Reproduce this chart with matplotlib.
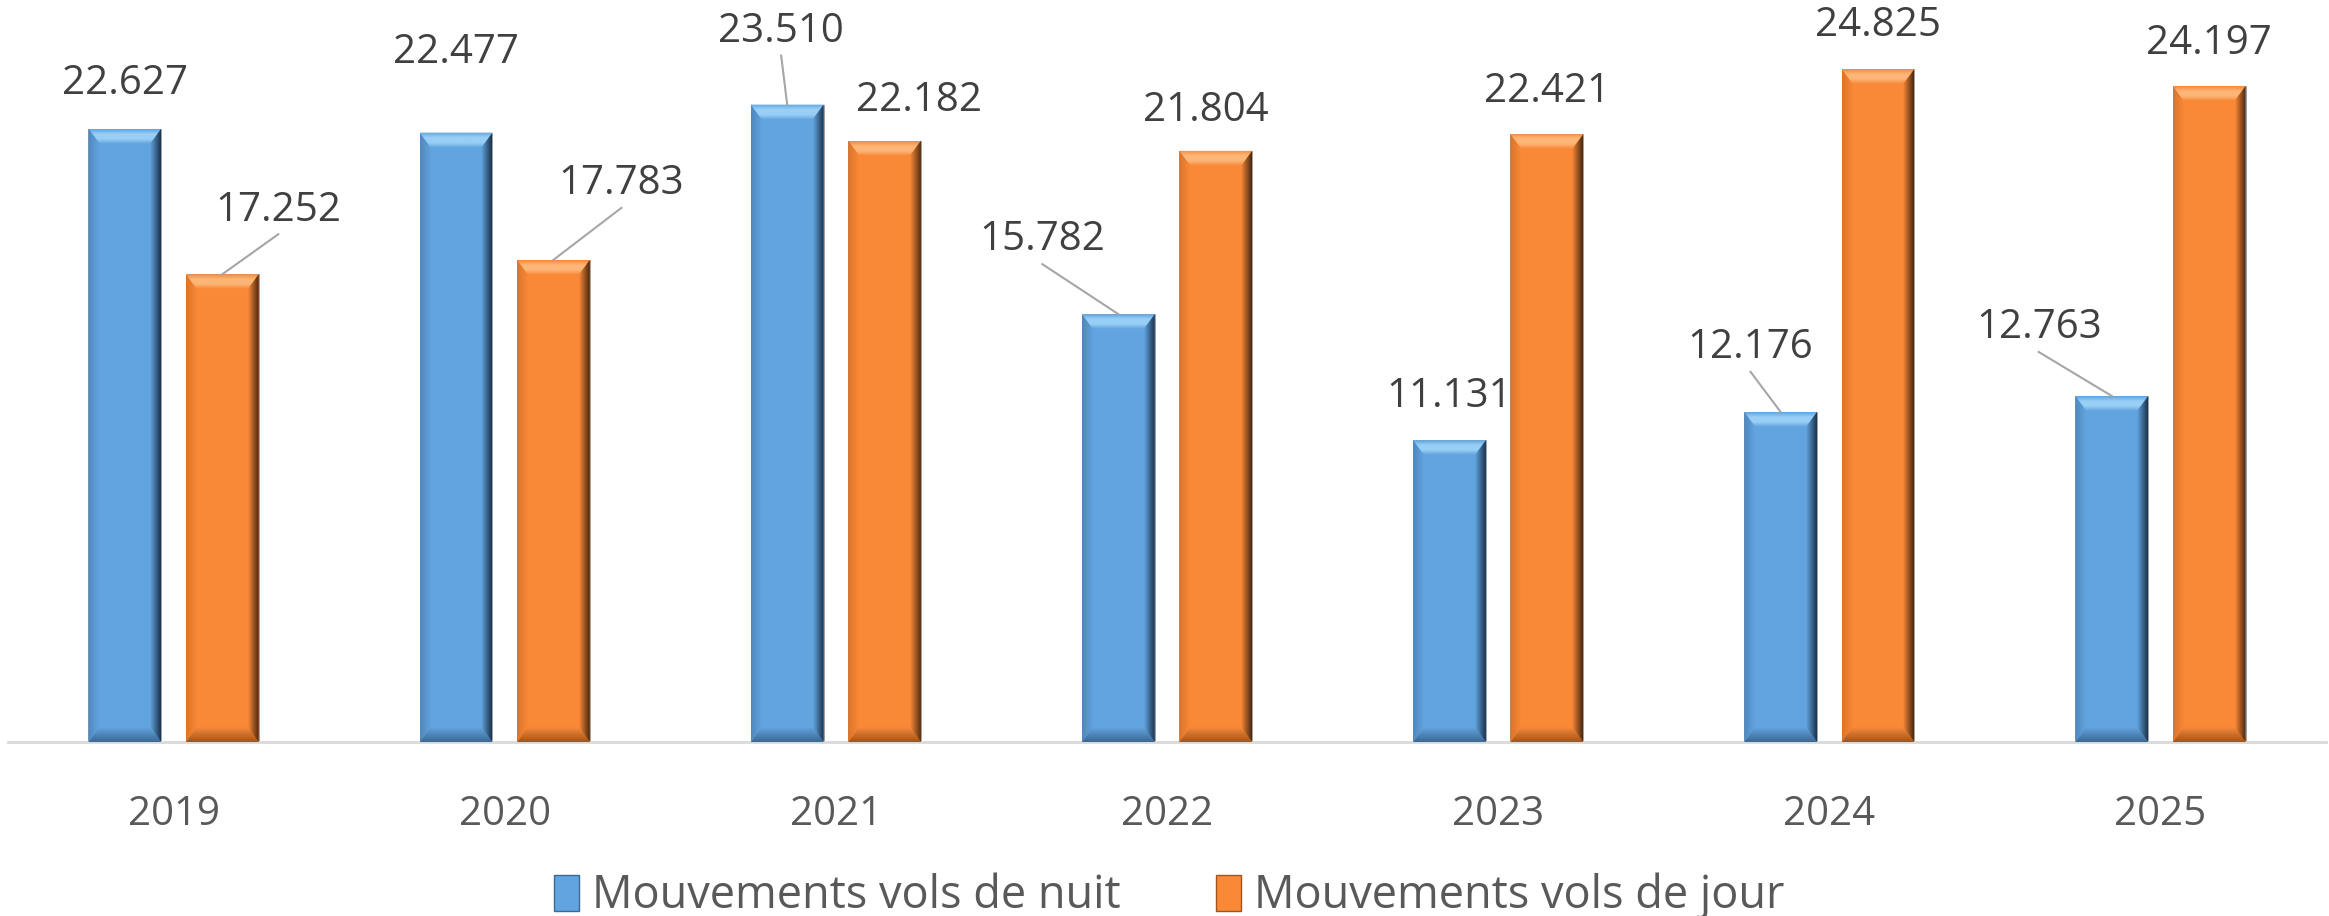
import numpy as np
import matplotlib.pyplot as plt
from matplotlib.colors import to_rgb
from matplotlib.patches import Polygon, Patch

plt.switch_backend('agg')
plt.rcParams['font.family'] = ['Open Sans', 'DejaVu Sans']

# data
years = ['2019', '2020', '2021', '2022', '2023', '2024', '2025']
night = [22627, 22477, 23510, 15782, 11131, 12176, 12763]
day = [17252, 17783, 22182, 21804, 22421, 24825, 24197]
series_names = ['Mouvements vols de nuit', 'Mouvements vols de jour']

# label offsets from bar top centre, in pixels (dx, dy), and whether a leader is drawn
night_offsets = [(0, -45), (0, -80), (-6, -73), (-76, -74), (0, -43), (-30, -64), (-73, -68)]
day_offsets = [(56, -64), (68, -76), (34, -40), (-10, -40), (0, -42), (0, -43), (0, -42)]
night_leader = [False, False, True, True, False, True, True]
day_leader = [True, True, False, False, False, False, False]

blue = {'base': '#62a4df', 'light': '#98cff6', 'side': '#4f87bd', 'dark': '#1b324c', 'bottom': '#3c6894'}
orange = {'base': '#f98837', 'light': '#fdb677', 'side': '#d9742b', 'dark': '#472810', 'bottom': '#9e561e'}

W, H, DPI = 2329, 916, 100
fig = plt.figure(figsize=(W / DPI, H / DPI), dpi=DPI)
ax_l, ax_r, ax_b, ax_t = 8 / W, 2326 / W, (H - 742) / H, (H - 10) / H
ax = fig.add_axes([ax_l, ax_b, ax_r - ax_l, ax_t - ax_b])

ymax = 27000
ax.set_xlim(-0.5, len(years) - 0.5)
ax.set_ylim(0, ymax)

px_x = len(years) / (W * (ax_r - ax_l))
px_y = ymax / (H * (ax_t - ax_b))

bar_w = 0.22
shift = 0.147
x = np.arange(len(years))


def grad_fill(pts, extent, colors, horizontal):
    poly = Polygon(pts, closed=True, facecolor='none', edgecolor='none', zorder=3)
    ax.add_patch(poly)
    cols = np.array([to_rgb(c) for c in colors])
    t = np.linspace(0, 1, 48)
    pos = np.linspace(0, 1, len(cols))
    img = np.stack([np.interp(t, pos, cols[:, k]) for k in range(3)], axis=-1)
    img = img[None, :, :] if horizontal else img[:, None, :]
    im = ax.imshow(img, extent=extent, aspect='auto', zorder=3, interpolation='bilinear', origin='upper')
    im.set_clip_path(poly)


def bevel_bar(xc, h, col):
    x0, x1 = xc - bar_w / 2, xc + bar_w / 2
    s, t = 11 * px_x, 15 * px_y
    ax.bar(xc, h, bar_w, color=col['base'], edgecolor='#9a9a9a', linewidth=0.6, zorder=2)
    # top facet (image rows go from top to bottom)
    grad_fill([(x0, h), (x1, h), (x1 - s, h - t), (x0 + s, h - t)], (x0, x1, h - t, h),
              [col['base'], col['light'], col['light'], col['base']], False)
    # bottom facet
    grad_fill([(x0, 0), (x1, 0), (x1 - s, t), (x0 + s, t)], (x0, x1, 0, t),
              [col['base'], col['bottom']], False)
    # left facet
    grad_fill([(x0, h), (x0 + s, h - t), (x0 + s, t), (x0, 0)], (x0, x0 + s, 0, h),
              [col['side'], col['base']], True)
    # right facet
    grad_fill([(x1, h), (x1, 0), (x1 - s, t), (x1 - s, h - t)], (x1 - s, x1, 0, h),
              [col['base'], col['dark']], True)


def label(xc, h, val, off, leader):
    txt = f'{val / 1000:.3f}'
    x_txt = xc + off[0] * px_x
    y_txt = h - off[1] * px_y
    ax.text(x_txt, y_txt, txt, ha='center', va='center', fontsize=29, color='#404040', zorder=5)
    if leader:
        ax.plot([xc, x_txt], [h, y_txt - 24 * px_y], color='#a6a6a6', lw=1.5, zorder=4)


for i in range(len(years)):
    bevel_bar(x[i] - shift, night[i], blue)
    bevel_bar(x[i] + shift, day[i], orange)

for i in range(len(years)):
    label(x[i] - shift, night[i], night[i], night_offsets[i], night_leader[i])
    label(x[i] + shift, day[i], day[i], day_offsets[i], day_leader[i])

ax.set_xlim(-0.5, len(years) - 0.5)
ax.set_ylim(0, ymax)

for sp in ['top', 'right', 'left']:
    ax.spines[sp].set_visible(False)
ax.spines['bottom'].set_color('#d9d9d9')
ax.spines['bottom'].set_linewidth(2)
ax.set_yticks([])
ax.set_xticks(x)
ax.set_xticklabels(years, fontsize=29, color='#595959')
ax.tick_params(axis='x', length=0, pad=38)

handles = [Patch(facecolor=blue['base'], edgecolor=blue['bottom'], label=series_names[0]),
           Patch(facecolor=orange['base'], edgecolor=orange['bottom'], label=series_names[1])]
fig.legend(handles=handles, loc='center', bbox_to_anchor=(0.502, (H - 896) / H), ncol=2, frameon=False,
           fontsize=32.5, labelcolor='#595959', handlelength=0.55, handleheight=0.85,
           handletextpad=0.3, columnspacing=2.1)

fig.savefig('out.png', dpi=DPI)
plt.close()
